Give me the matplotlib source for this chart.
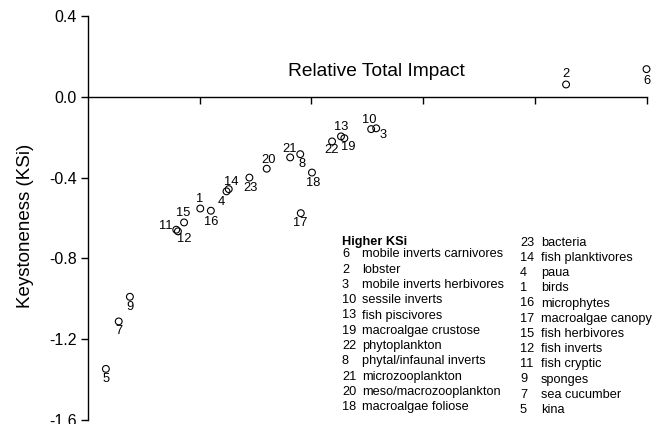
import numpy as np
import matplotlib
matplotlib.use("Agg")
import matplotlib.pyplot as plt

plt.rcParams['font.family'] = ['Liberation Sans', 'DejaVu Sans']

# group id, relative total impact, keystoneness
ids = [6, 2, 3, 10, 13, 19, 22, 8, 21, 20, 18, 23, 14, 4, 1, 16, 17, 15, 11, 12, 9, 7, 5]
rti = [1.000, 0.856, 0.516, 0.507, 0.453, 0.459, 0.437, 0.380, 0.362, 0.320, 0.401, 0.289,
       0.252, 0.248, 0.201, 0.220, 0.381, 0.172, 0.158, 0.161, 0.075, 0.055, 0.032]
ksi = [0.137, 0.061, -0.156, -0.160, -0.196, -0.205, -0.221, -0.284, -0.300, -0.356, -0.375, -0.400,
       -0.457, -0.468, -0.553, -0.564, -0.576, -0.622, -0.658, -0.666, -0.990, -1.112, -1.347]
yticks = [-1.6, -1.2, -0.8, -0.4, 0.0, 0.4]
ylabels = ['-1.6', '-1.2', '-0.8', '-0.4', '0.0', '0.4']

names = {6: "mobile inverts carnivores", 2: "lobster", 3: "mobile inverts herbivores",
         10: "sessile inverts", 13: "fish piscivores", 19: "macroalgae crustose",
         22: "phytoplankton", 8: "phytal/infaunal inverts", 21: "microzooplankton",
         20: "meso/macrozooplankton", 18: "macroalgae foliose", 23: "bacteria",
         14: "fish planktivores", 4: "paua", 1: "birds", 16: "microphytes",
         17: "macroalgae canopy", 15: "fish herbivores", 12: "fish inverts",
         11: "fish cryptic", 9: "sponges", 7: "sea cucumber", 5: "kina"}
col1 = [6, 2, 3, 10, 13, 19, 22, 8, 21, 20, 18]
col2 = [23, 14, 4, 1, 16, 17, 15, 12, 11, 9, 7, 5]

# label offset from the point, pixels (x right, y down)
lab_off = {6: (0, 12), 2: (0, -10), 3: (7, 7), 10: (-2, -9), 13: (0, -9), 19: (4, 9),
           22: (-1, 9), 8: (2, 10), 21: (-1, -8), 20: (2, -9), 18: (1, 10), 23: (1, 10),
           14: (3, -7), 4: (-5, 11), 1: (-1, -10), 16: (0, 11), 17: (-1, 10), 15: (-1, -9),
           11: (-10, -4), 12: (6, 8), 9: (0, 10), 7: (0, 10), 5: (0, 10)}

W, H = 667, 424
fig = plt.figure(figsize=(W / 100, H / 100), dpi=100)
ax = fig.add_axes([88 / W, 1 - 420 / H, (646.5 - 88) / W, (420 - 16) / H])

ax.scatter(rti, ksi, s=24, facecolors='none', edgecolors='black', linewidths=0.8, clip_on=False, zorder=3)
for i, x, y in zip(ids, rti, ksi):
    dx, dy = lab_off[i]
    ax.annotate(str(i), (x, y), xytext=(dx, -dy), textcoords='offset pixels',
                ha='center', va='center', fontsize=9.3, annotation_clip=False)

ax.set_xlim(0, 1)
ax.set_ylim(-1.6, 0.4)
for s in ['top', 'right']:
    ax.spines[s].set_visible(False)
ax.spines['bottom'].set_position(('data', 0))
ax.spines['left'].set_linewidth(1.0)
ax.spines['bottom'].set_linewidth(1.0)
ax.set_xticks([0.2, 0.4, 0.6, 0.8, 1.0])
ax.set_xticklabels([])
ax.set_yticks(yticks)
ax.set_yticklabels(ylabels)
ax.tick_params(axis='both', direction='out', length=5, width=1.0, labelsize=11.5, pad=3)

fig.text(376 / W, 1 - 71 / H, "Relative Total Impact", ha='center', va='center', fontsize=13.8)
fig.text(25.5 / W, 1 - 226 / H, "Keystoneness (KSi)", ha='center', va='center', rotation=90, fontsize=13.5)

# legend block
fig.text(342 / W, 1 - 242.3 / H, "Higher KSi", ha='left', va='center', fontsize=9.2, fontweight='bold')
for k, i in enumerate(col1):
    y = 1 - (254.3 + 15.3 * k) / H
    fig.text(342 / W, y, str(i), ha='left', va='center', fontsize=9.2)
    fig.text(362 / W, y, names[i], ha='left', va='center', fontsize=9.2)
for k, i in enumerate(col2):
    y = 1 - (242.7 + 15.2 * k) / H
    fig.text(520 / W, y, str(i), ha='left', va='center', fontsize=9.2)
    fig.text(541 / W, y, names[i], ha='left', va='center', fontsize=9.2)

fig.savefig("out.png", dpi=100)
